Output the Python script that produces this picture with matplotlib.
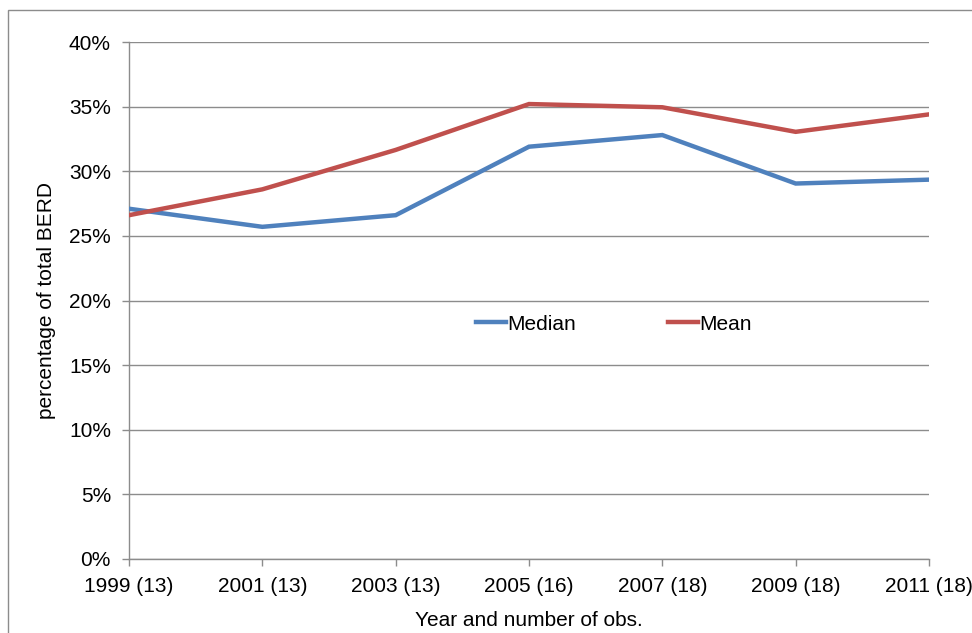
import matplotlib
matplotlib.use('Agg')
import matplotlib.pyplot as plt
from matplotlib.patches import Rectangle
from matplotlib.ticker import MultipleLocator, PercentFormatter

# Share of total BERD, by survey year (number of observations in brackets)
years = ['1999 (13)', '2001 (13)', '2003 (13)', '2005 (16)', '2007 (18)', '2009 (18)', '2011 (18)']
median = [27.1, 25.7, 26.6, 31.9, 32.8, 29.05, 29.35]
mean = [26.6, 28.6, 31.65, 35.2, 34.95, 33.05, 34.4]

plt.rcParams['font.family'] = ['Liberation Sans', 'DejaVu Sans']
plt.rcParams['font.size'] = 15

fig = plt.figure(figsize=(9.72, 6.33), dpi=100)
ax = fig.add_axes([129 / 972, 1 - 559 / 633, 800 / 972, 517 / 633])

x = list(range(len(years)))
ax.plot(x, median, color='#4F81BD', lw=3.2, label='Median', solid_joinstyle='miter', zorder=3)
ax.plot(x, mean, color='#C0504D', lw=3.2, label='Mean', solid_joinstyle='miter', zorder=3)

ax.set_xlim(0, len(years) - 1)
ax.set_ylim(0, 40)
ax.yaxis.set_major_locator(MultipleLocator(5))
ax.yaxis.set_major_formatter(PercentFormatter(decimals=0))
ax.set_xticks(x)
ax.set_xticklabels(years)

ax.grid(axis='y', color='#8c8c8c', lw=1)
ax.set_axisbelow(True)
for side in ('top', 'right'):
    ax.spines[side].set_visible(False)
for side in ('left', 'bottom'):
    ax.spines[side].set_color('#8c8c8c')
    ax.spines[side].set_linewidth(1)
ax.tick_params(axis='both', direction='out', length=5, width=1, color='#8c8c8c', labelsize=15)
ax.tick_params(axis='y', pad=8)
ax.tick_params(axis='x', pad=8)

ax.set_ylabel('percentage of total BERD', fontsize=15, labelpad=9)
ax.set_xlabel('Year and number of obs.', fontsize=15, labelpad=11)

ax.legend(loc='center left', bbox_to_anchor=(0.434, 0.4545), ncol=2, frameon=False,
          borderpad=0, borderaxespad=0, handlelength=1.45, handletextpad=0.05,
          columnspacing=4.4, fontsize=15)

# Thin grey frame around the whole chart area
fig.patches.append(Rectangle((8 / 972, -0.1), 1.0, 1.1 - 10 / 633, transform=fig.transFigure,
                             fill=False, edgecolor='#8c8c8c', lw=1))

fig.savefig('out.png', dpi=100)
